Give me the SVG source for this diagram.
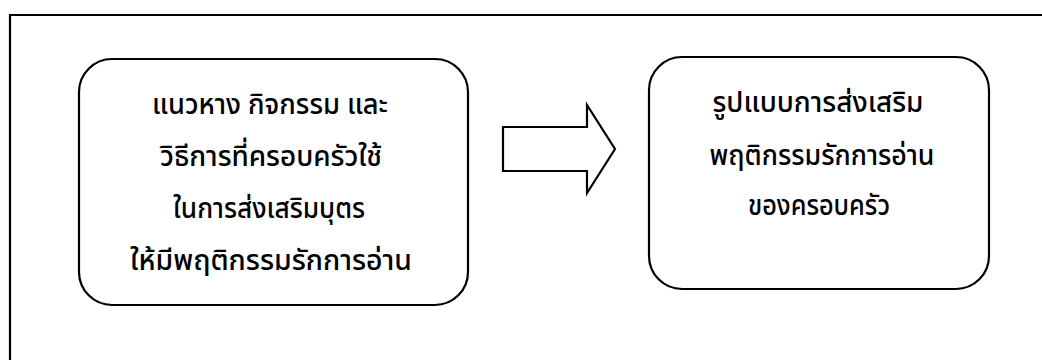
<svg xmlns="http://www.w3.org/2000/svg" width="1042" height="360" viewBox="0 0 1042 360">
<style>
.frame{fill:none;stroke:#000;stroke-width:2.2}
.box{fill:#fff;stroke:#000;stroke-width:2.2}
.arrow{fill:#fff;stroke:#000;stroke-width:2.2;stroke-linejoin:miter}
.t{font-family:"Noto Sans Thai","Noto Sans","DejaVu Sans",sans-serif;font-size:28px;font-weight:500;fill:#000;text-anchor:middle}
</style>
<rect width="1042" height="360" fill="#fff"/>
<g id="frame"><path class="frame" d="M1060,15 H10 V380"/></g>
<g id="node-left">
<rect class="box" x="79" y="59" width="389" height="246" rx="33" ry="33"/>
<text class="t" x="270" y="114" textLength="236" lengthAdjust="spacingAndGlyphs">แนวหาง กิจกรรม และ</text>
<text class="t" x="271" y="166" textLength="222" lengthAdjust="spacingAndGlyphs">วิธีการที่ครอบครัวใช้</text>
<text class="t" x="269" y="218" textLength="192" lengthAdjust="spacingAndGlyphs">ในการส่งเสริมบุตร</text>
<text class="t" x="271" y="270" textLength="282" lengthAdjust="spacingAndGlyphs">ให้มีพฤติกรรมรักการอ่าน</text>
</g>
<g id="connectors">
<polygon class="arrow" points="503,127 587,127 587,105 615,149 587,193 587,171 503,171"/>
</g>
<g id="node-right">
<rect class="box" x="649" y="57" width="340" height="232" rx="33" ry="33"/>
<text class="t" x="818" y="112" textLength="211" lengthAdjust="spacingAndGlyphs">รูปแบบการส่งเสริม</text>
<text class="t" x="822" y="165" textLength="225" lengthAdjust="spacingAndGlyphs">พฤติกรรมรักการอ่าน</text>
<text class="t" x="819" y="215" textLength="142" lengthAdjust="spacingAndGlyphs">ของครอบครัว</text>
</g>
</svg>
